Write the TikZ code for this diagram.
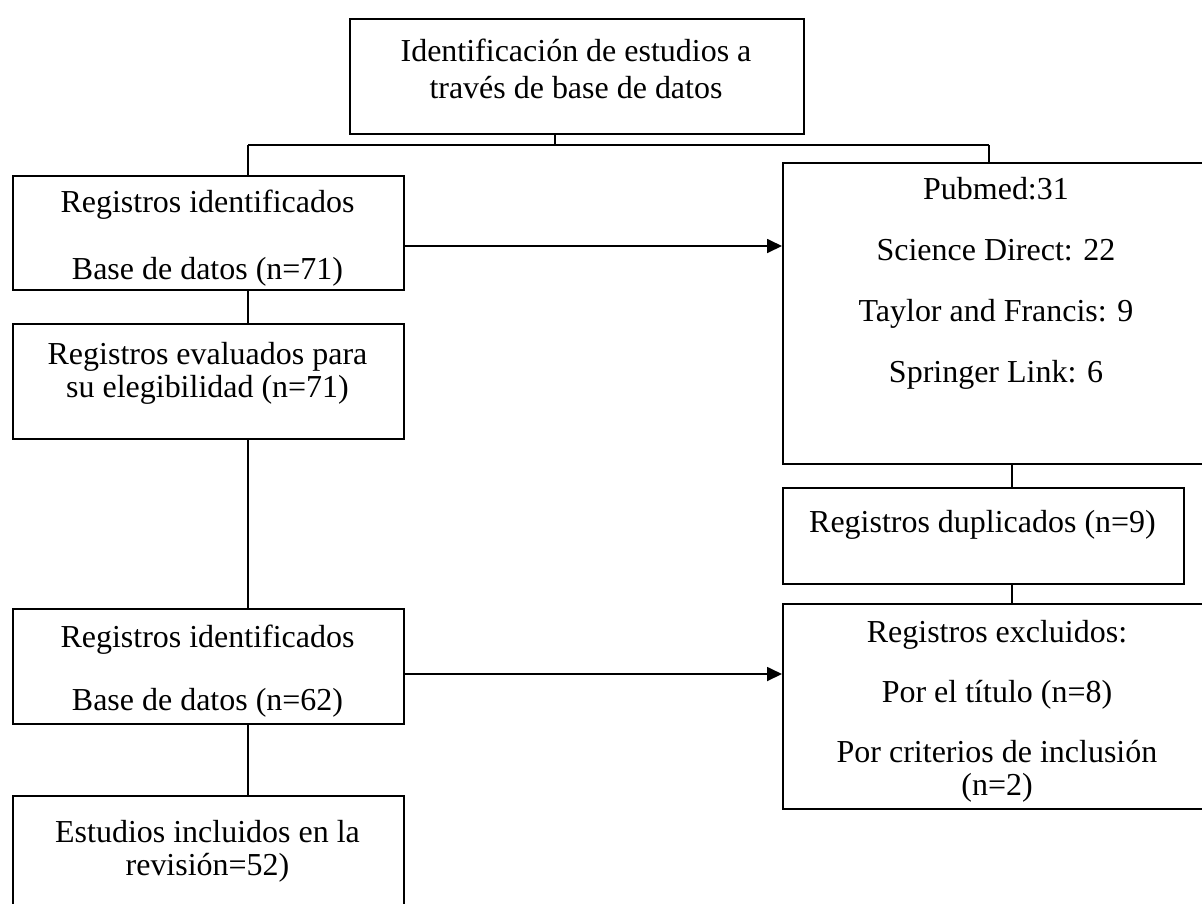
\documentclass[tikz,border=0pt]{standalone}
\usepackage{fontspec}
\setmainfont{Liberation Serif}
\usetikzlibrary{arrows.meta,calc}

\begin{document}
\begin{tikzpicture}[x=0.02cm,y=-0.02cm,
	font=\fontsize{18.2}{18.8}\selectfont,
	caja/.style={draw,line width=1.1pt,anchor=north west,inner sep=0pt},
	texto/.style={align=center,inner sep=0pt},
	union/.style={line width=0.6pt},
	flecha/.style={line width=1pt,-{Triangle[length=0.3cm,width=0.28cm]}}]
				\useasboundingbox (0,0) rectangle (1202,903);
				\clip (0,0) rectangle (1202,903);
				
				\node[caja,minimum width=9.08cm,minimum height=2.3cm] (tope) at (349,18) {};
				\node[caja,minimum width=7.82cm,minimum height=2.28cm] (reg1) at (12,175) {};
				\node[caja,minimum width=7.82cm,minimum height=2.3cm] (eval) at (12,323) {};
				\node[caja,minimum width=7.82cm,minimum height=2.3cm] (reg2) at (12,608) {};
				\node[caja,minimum width=7.82cm,minimum height=2.7cm] (incl) at (12,795) {};
				\node[caja,minimum width=8.6cm,minimum height=6.02cm] (fuentes) at (782,162) {};
				\node[caja,minimum width=8.02cm,minimum height=1.92cm] (dup) at (782,487) {};
				\node[caja,minimum width=8.6cm,minimum height=4.1cm] (excl) at (782,603) {};
				
				\node[texto] (t-tope) at (576,68.5) {Identificación de estudios a\\[2.3pt]través de base de datos};
				\node[texto] (t-reg1) at (207.5,238.5) {Registros identificados\\[19.3pt]Base de datos (n=71)};
				\node[texto] (t-eval) at (207.5,373.5) {Registros evaluados para\\su elegibilidad (n=71)};
				\node[texto] (t-reg2) at (207.5,671.5) {Registros identificados\\[17pt]Base de datos (n=62)};
				\node[texto] (t-incl) at (207.5,851.5) {Estudios incluidos en la\\revisión=52)};
				\node[texto] (t-fuentes) at (996,283.5) {Pubmed:31\\[16pt]Science Direct: 22\\[16pt]Taylor and Francis: 9\\[16pt]Springer Link: 6};
				\node[texto] (t-dup) at (982.5,525) {Registros duplicados (n=9)};
				\node[texto] (t-excl) at (997,711.5) {Registros excluidos:\\[15.3pt]Por el título (n=8)\\[15.3pt]Por criterios de inclusión\\(n=2)};
				
				\coordinate (ejeI) at (248,0);
				\coordinate (ejeD) at (1012,0);
				\coordinate (bif) at (555,145);
				\coordinate (ramaI) at (248,145);
				\coordinate (ramaD) at (989,145);
				\coordinate (f1) at (0,246);
				\coordinate (f2) at (0,674);
				
				\draw[union] (tope.south -| bif) -- (bif);
				\draw[union] (ramaI) -- (ramaD);
				\draw[union] (ramaI) -- (reg1.north -| ramaI);
				\draw[union] (ramaD) -- (fuentes.north -| ramaD);
				\draw[union] (reg1.south -| ejeI) -- (eval.north -| ejeI);
				\draw[union] (eval.south -| ejeI) -- (reg2.north -| ejeI);
				\draw[union] (reg2.south -| ejeI) -- (incl.north -| ejeI);
				\draw[union] (fuentes.south -| ejeD) -- (dup.north -| ejeD);
				\draw[union] (dup.south -| ejeD) -- (excl.north -| ejeD);
				
				\draw[flecha] (f1 -| reg1.east) -- (f1 -| fuentes.west);
				\draw[flecha] (f2 -| reg2.east) -- (f2 -| excl.west);
			\end{tikzpicture}
\end{document}
